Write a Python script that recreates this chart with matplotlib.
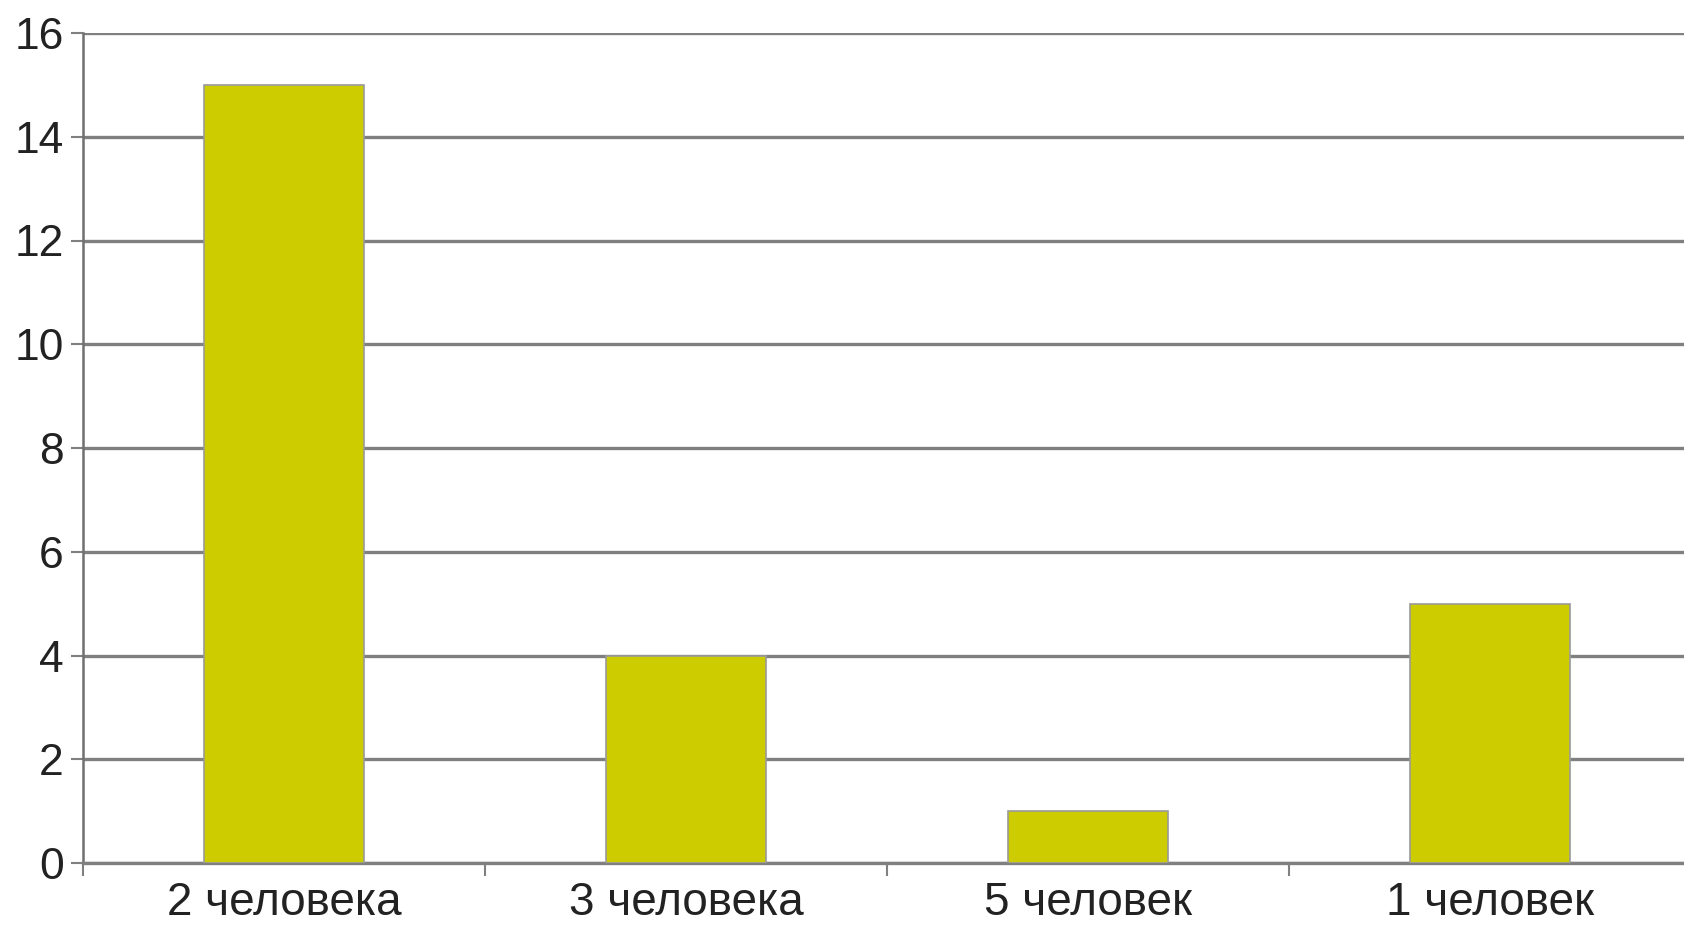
import matplotlib
matplotlib.use("Agg")
import matplotlib.pyplot as plt
import numpy as np

categories = ["2 человека", "3 человека", "5 человек", "1 человек"]
values = [15, 4, 1, 5]
yticks = [0, 2, 4, 6, 8, 10, 12, 14, 16]

plt.rcParams['font.family'] = ['Liberation Sans', 'DejaVu Sans']

W, H = 1684, 926
fig = plt.figure(figsize=(W / 100, H / 100), dpi=100)
left, right, top, bottom = 83, 1691, 33, 863
ax = fig.add_axes([left / W, (H - bottom) / H, (right - left) / W, (bottom - top) / H])

x = np.arange(len(categories))
ax.set_axisbelow(True)
ax.bar(x, values, width=0.4, color="#CCCC00", edgecolor="#9a9a9a", linewidth=1.2, zorder=3)

ax.set_xlim(-0.5, len(categories) - 0.5)
ax.set_ylim(0, 16)
ax.set_yticks(yticks)
ax.set_yticklabels([str(t) for t in yticks])
ax.yaxis.grid(True, color="#808080", linewidth=2.4)
ax.xaxis.grid(False)

ax.set_xticks(x)
ax.set_xticklabels(categories)
ax.set_xticks(np.arange(len(categories)) - 0.5, minor=True)
ax.tick_params(axis="x", which="major", length=0, pad=13, labelsize=33, colors="#222222")
ax.tick_params(axis="x", which="minor", length=9, width=1.5, color="#808080")
ax.tick_params(axis="y", length=9, width=1.5, color="#808080", pad=5, labelsize=32, labelcolor="#222222")

for s in ["top", "right"]:
    ax.spines[s].set_visible(False)
ax.spines["left"].set_color("#707070")
ax.spines["left"].set_linewidth(1.8)
ax.spines["bottom"].set_color("#808080")
ax.spines["bottom"].set_linewidth(2.4)

fig.savefig("out.png", dpi=100)
